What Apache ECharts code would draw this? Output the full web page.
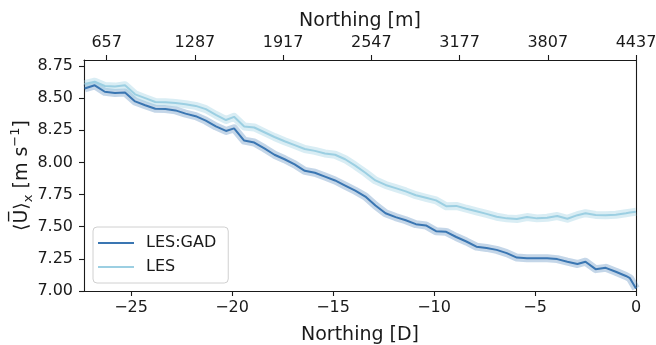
<!DOCTYPE html>
<html>
<head>
<meta charset="utf-8">
<script src="https://cdn.jsdelivr.net/npm/echarts@6/dist/echarts.min.js"></script>
<style>
  html, body { margin: 0; padding: 0; background: #fff; }
  #chart { width: 656px; height: 345px; }
</style>
</head>
<body>
<div id="chart"></div>
<script>
// Streamwise mean velocity along the northing coordinate (in rotor diameters)
const northingD = [-27.3, -26.8, -26.3, -25.8, -25.3, -24.8, -24.3, -23.8, -23.3, -22.8,
  -22.3, -21.8, -21.3, -20.8, -20.3, -19.9, -19.4, -18.9, -18.4, -17.9,
  -17.4, -16.9, -16.4, -15.9, -15.4, -14.9, -14.4, -13.9, -13.4, -12.9,
  -12.4, -11.9, -11.4, -10.9, -10.4, -9.9, -9.4, -8.9, -8.4, -7.9,
  -7.4, -6.9, -6.4, -5.9, -5.4, -4.9, -4.4, -3.9, -3.4, -2.9,
  -2.5, -2.0, -1.5, -1.0, -0.5, -0.3, 0];

const lesGad = [8.575, 8.600, 8.550, 8.540, 8.545, 8.475, 8.445, 8.418, 8.415, 8.405,
  8.380, 8.360, 8.325, 8.280, 8.245, 8.265, 8.170, 8.155, 8.110, 8.060,
  8.025, 7.985, 7.935, 7.920, 7.890, 7.860, 7.820, 7.780, 7.735, 7.665,
  7.605, 7.575, 7.550, 7.520, 7.510, 7.465, 7.460, 7.420, 7.385, 7.345,
  7.335, 7.320, 7.295, 7.260, 7.255, 7.255, 7.255, 7.248, 7.228, 7.210,
  7.228, 7.170, 7.180, 7.150, 7.117, 7.100, 7.020];

const les = [8.610, 8.628, 8.595, 8.590, 8.600, 8.530, 8.500, 8.470, 8.468, 8.462,
  8.453, 8.440, 8.415, 8.370, 8.330, 8.355, 8.280, 8.272, 8.235, 8.198,
  8.165, 8.135, 8.105, 8.090, 8.070, 8.060, 8.025, 7.975, 7.920, 7.860,
  7.825, 7.800, 7.775, 7.745, 7.725, 7.705, 7.660, 7.662, 7.640, 7.620,
  7.600, 7.578, 7.565, 7.560, 7.575, 7.565, 7.570, 7.583, 7.562, 7.590,
  7.605, 7.592, 7.590, 7.593, 7.605, 7.610, 7.617];

const xTicksD = [-25, -20, -15, -10, -5, 0];
const xTicksM = [657, 1287, 1917, 2547, 3177, 3807, 4437];
const yTicks = [7.00, 7.25, 7.50, 7.75, 8.00, 8.25, 8.50, 8.75];

const FONT = 'DejaVu Sans';
const INK = '#1a1a1a';
const GAD_COLOR = '#3a76b2';
const GAD_BAND = 'rgba(58,118,178,0.3)';
const LES_COLOR = '#9ccfe2';
const LES_BAND = 'rgba(156,207,226,0.38)';

const pairs = (ys) => northingD.map((x, i) => [x, ys[i]]);
const minus = (v) => String(v).replace('-', '\u2212');

const chart = echarts.init(document.getElementById('chart'), null, { renderer: 'canvas' });

const axisLineStyle = { color: INK, width: 1.1 };

chart.setOption({
  animation: false,
  backgroundColor: '#fff',
  grid: { left: 84, right: 20, top: 60, bottom: 54, containLabel: false, outerBoundsMode: 'none' },
  legend: {
    left: 93, top: 227,
    orient: 'vertical',
    data: [
      { name: 'LES:GAD', icon: 'rect' },
      { name: 'LES', icon: 'rect' }
    ],
    itemWidth: 36, itemHeight: 2, itemGap: 6,
    padding: [7, 12, 7, 5],
    backgroundColor: 'rgba(255,255,255,0.85)',
    borderColor: '#d0d0d0', borderWidth: 1, borderRadius: 4,
    textStyle: { fontFamily: FONT, fontSize: 16, color: INK, lineHeight: 18, padding: [0, 0, 0, 7] }
  },
  xAxis: [
    {
      type: 'value', position: 'bottom',
      min: -27.33, max: 0,
      name: 'Northing [D]', nameLocation: 'middle', nameGap: 35,
      nameTextStyle: { fontFamily: FONT, fontSize: 19, color: INK },
      axisLine: { show: true, onZero: false, lineStyle: axisLineStyle },
      axisTick: { show: true, length: 5, lineStyle: axisLineStyle, customValues: xTicksD },
      axisLabel: { fontFamily: FONT, fontSize: 16, color: INK, margin: 9, customValues: xTicksD, formatter: minus },
      splitLine: { show: false }
    },
    {
      type: 'value', position: 'top',
      min: 495, max: 4437,
      name: 'Northing [m]', nameLocation: 'middle', nameGap: 29,
      nameTextStyle: { fontFamily: FONT, fontSize: 19, color: INK },
      axisLine: { show: true, onZero: false, lineStyle: axisLineStyle },
      axisTick: { show: true, length: 5, lineStyle: axisLineStyle, customValues: xTicksM },
      axisLabel: { fontFamily: FONT, fontSize: 16, color: INK, margin: 9, customValues: xTicksM,
        formatter: (v) => String(v) },
      splitLine: { show: false }
    }
  ],
  yAxis: [
    {
      type: 'value', position: 'left',
      min: 7.0, max: 8.797,
      name: '{t|\u27E8U\u0305\u27E9}{sub|x}{t| [m s}{sup|\u22121}{t|]}',
      nameLocation: 'middle', nameRotate: 90, nameGap: 49, nameMoveOverlap: false,
      nameTextStyle: {
        fontFamily: FONT, fontSize: 19, color: INK,
        rich: {
          t: { fontFamily: FONT, fontSize: 19, color: INK, lineHeight: 26, verticalAlign: 'middle' },
          sub: { fontFamily: FONT, fontSize: 13, color: INK, lineHeight: 26, verticalAlign: 'bottom' },
          sup: { fontFamily: FONT, fontSize: 13, color: INK, lineHeight: 26, verticalAlign: 'top' }
        }
      },
      axisLine: { show: true, onZero: false, lineStyle: axisLineStyle },
      axisTick: { show: true, length: 5, lineStyle: axisLineStyle, customValues: yTicks },
      axisLabel: { fontFamily: FONT, fontSize: 16, color: INK, margin: 11, customValues: yTicks,
        formatter: (v) => v.toFixed(2) },
      splitLine: { show: false }
    },
    {
      type: 'value', position: 'right',
      min: 7.0, max: 8.797,
      axisLine: { show: true, onZero: false, lineStyle: axisLineStyle },
      axisTick: { show: false }, axisLabel: { show: false }, splitLine: { show: false }
    }
  ],
  series: [
    {
      name: 'LES:GAD band', type: 'line', data: pairs(lesGad),
      showSymbol: false, silent: true, z: 1,
      lineStyle: { color: GAD_BAND, width: 8, join: 'round', cap: 'butt' }
    },
    {
      name: 'LES band', type: 'line', data: pairs(les),
      showSymbol: false, silent: true, z: 1,
      lineStyle: { color: LES_BAND, width: 8, join: 'round', cap: 'butt' }
    },
    {
      name: 'LES:GAD', type: 'line', data: pairs(lesGad),
      showSymbol: false, z: 3, color: GAD_COLOR,
      lineStyle: { color: GAD_COLOR, width: 2 }
    },
    {
      name: 'LES', type: 'line', data: pairs(les),
      showSymbol: false, z: 3, color: LES_COLOR,
      lineStyle: { color: LES_COLOR, width: 2 }
    }
  ]
});
</script>
</body>
</html>
